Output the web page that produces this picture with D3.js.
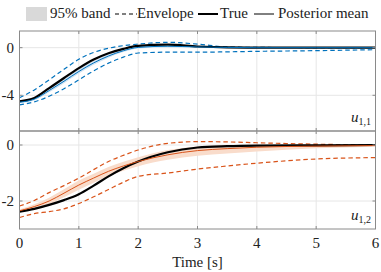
<!DOCTYPE html>
<html>
<head>
<meta charset="utf-8">
<script src="https://cdn.jsdelivr.net/npm/d3@7"></script>
<style>
body{margin:0;background:#fff;}
</style>
</head>
<body>
<div id="chart"></div>
<script>
// time grid and series
var time = [0,0.25,0.5,0.75,1,1.25,1.5,1.75,2,2.5,3,3.5,4,5,6];

// u_{1,1}
var true11  = [-4.5,-4.22,-3.4,-2.55,-1.72,-1.0,-0.47,-0.1,0.15,0.25,0.1,0.02,0,0,0];
var mean11  = [-4.58,-4.32,-3.6,-2.82,-2.0,-1.28,-0.7,-0.26,0.02,0.12,0.06,0.02,0,0,0];
var hi11    = [-4.5,-4.2,-3.45,-2.65,-1.82,-1.12,-0.57,-0.16,0.1,0.18,0.1,0.05,0.02,0.01,0];
var lo11    = [-4.66,-4.44,-3.75,-2.98,-2.17,-1.44,-0.84,-0.37,-0.07,0.04,0.01,-0.02,-0.02,-0.01,0];
var up11    = [-4.2,-3.55,-2.7,-1.82,-0.97,-0.4,-0.05,0.17,0.3,0.45,0.3,0.06,0.02,0.01,0];
var low11   = [-4.8,-4.55,-4.08,-3.45,-2.7,-1.95,-1.3,-0.8,-0.45,-0.38,-0.38,-0.35,-0.31,-0.25,-0.17];

// u_{1,2}
var true12  = [-2.38,-2.28,-2.14,-1.97,-1.76,-1.45,-1.12,-0.83,-0.59,-0.26,-0.09,-0.04,-0.02,-0.01,0];
var mean12  = [-2.35,-2.2,-2.0,-1.72,-1.43,-1.18,-0.94,-0.75,-0.59,-0.35,-0.2,-0.13,-0.08,-0.04,-0.02];
var hi12    = [-2.3,-2.12,-1.88,-1.58,-1.27,-1.03,-0.79,-0.6,-0.44,-0.18,-0.05,-0.01,0,0,0];
var lo12    = [-2.4,-2.28,-2.12,-1.87,-1.6,-1.35,-1.11,-0.92,-0.76,-0.53,-0.38,-0.3,-0.23,-0.12,-0.06];
var up12    = [-2.18,-1.98,-1.7,-1.45,-1.18,-0.88,-0.59,-0.37,-0.18,0.06,0.12,0.11,0.08,0.03,0];
var low12   = [-2.59,-2.45,-2.38,-2.28,-2.09,-1.85,-1.59,-1.33,-1.12,-1.0,-0.86,-0.75,-0.65,-0.5,-0.45];

var xTicks = [0,1,2,3,4,5,6];
var yTicks11 = [0,-4];
var yTicks12 = [0,-2];

var W = 381, H = 272;
var left = 19.5, right = 375.5;
var FONT = "'Liberation Serif'";
var FS = 15;

var svg = d3.select("#chart").append("svg")
  .attr("width",W).attr("height",H);

function txt(sel){
  return sel.append("text").style("font-family",FONT).attr("font-size",FS).attr("fill","#222");
}

var x = d3.scaleLinear().domain([0,6]).range([left,right]);

var panels = [
  {top:31, bot:131, dom:[-7,1.4], ticks:yTicks11, color:"#0072BD", band:"#cfe2f3",
   tr:true11, mn:mean11, hi:hi11, lo:lo11, up:up11, low:low11, lab:"1,1"},
  {top:131, bot:229, dom:[-3,0.5], ticks:yTicks12, color:"#D95319", band:"#f9dccb",
   tr:true12, mn:mean12, hi:hi12, lo:lo12, up:up12, low:low12, lab:"1,2"}
];

panels.forEach(function(p){
  var y = d3.scaleLinear().domain(p.dom).range([p.bot,p.top]);
  var g = svg.append("g");

  // grid
  g.selectAll(".gx").data(xTicks.slice(1,-1)).enter().append("line")
    .attr("x1",d=>x(d)).attr("x2",d=>x(d)).attr("y1",p.top).attr("y2",p.bot)
    .attr("stroke","#e6e6e6").attr("stroke-width",1);
  g.selectAll(".gy").data(p.ticks).enter().append("line")
    .attr("x1",left).attr("x2",right).attr("y1",d=>y(d)).attr("y2",d=>y(d))
    .attr("stroke","#e6e6e6").attr("stroke-width",1);

  var line = function(arr){
    return d3.line().x((d,i)=>x(time[i])).y(d=>y(d)).curve(d3.curveMonotoneX)(arr);
  };
  var area = d3.area().x((d,i)=>x(time[i])).y0(d=>y(d[0])).y1(d=>y(d[1])).curve(d3.curveMonotoneX);

  g.append("path").attr("d",area(p.lo.map((v,i)=>[v,p.hi[i]])))
    .attr("fill",p.band).attr("stroke","none");
  g.append("path").attr("d",line(p.up)).attr("fill","none")
    .attr("stroke",p.color).attr("stroke-width",1.2).attr("stroke-dasharray","4.5,3");
  g.append("path").attr("d",line(p.low)).attr("fill","none")
    .attr("stroke",p.color).attr("stroke-width",1.2).attr("stroke-dasharray","4.5,3");
  g.append("path").attr("d",line(p.tr)).attr("fill","none")
    .attr("stroke","#000").attr("stroke-width",2.2);
  g.append("path").attr("d",line(p.mn)).attr("fill","none")
    .attr("stroke",p.color).attr("stroke-width",1);

  // box + ticks
  g.append("rect").attr("x",left).attr("y",p.top).attr("width",right-left).attr("height",p.bot-p.top)
    .attr("fill","none").attr("stroke","#8a8a8a").attr("stroke-width",1);
  g.selectAll(".tx").data(xTicks).enter().append("path")
    .attr("d",d=>"M"+x(d)+","+p.top+"v3M"+x(d)+","+p.bot+"v-3")
    .attr("stroke","#8a8a8a");
  g.selectAll(".ty").data(p.ticks).enter().append("path")
    .attr("d",d=>"M"+left+","+y(d)+"h3M"+right+","+y(d)+"h-3")
    .attr("stroke","#8a8a8a");
  p.ticks.forEach(function(v){
    txt(g).attr("x",14).attr("y",y(v)+5).attr("text-anchor","end").text(v);
  });

  var t = txt(g).attr("x",371).attr("y",p.bot-9).attr("text-anchor","end");
  t.append("tspan").attr("font-style","italic").text("u");
  t.append("tspan").attr("font-size",10).attr("dy",3).text(p.lab);
});

// x tick labels
xTicks.forEach(function(v){
  txt(svg).attr("x",x(v)).attr("y",248).attr("text-anchor","middle").text(v);
});
txt(svg).attr("x",(left+right)/2).attr("y",267).attr("text-anchor","middle").text("Time [s]");

// legend
var lg = svg.append("g");
lg.append("rect").attr("x",26).attr("y",7).attr("width",21).attr("height",14).attr("fill","#d9d9d9");
txt(lg).attr("x",50).attr("y",18).text("95% band");
lg.append("line").attr("x1",115).attr("x2",137).attr("y1",14).attr("y2",14)
  .attr("stroke","#000").attr("stroke-width",1).attr("stroke-dasharray","4,3");
txt(lg).attr("x",137).attr("y",18).text("Envelope");
lg.append("line").attr("x1",198).attr("x2",218).attr("y1",14).attr("y2",14)
  .attr("stroke","#000").attr("stroke-width",2);
txt(lg).attr("x",220).attr("y",18).text("True");
lg.append("line").attr("x1",254).attr("x2",274).attr("y1",14).attr("y2",14)
  .attr("stroke","#000").attr("stroke-width",1);
txt(lg).attr("x",278).attr("y",18).text("Posterior mean");
</script>
</body>
</html>
